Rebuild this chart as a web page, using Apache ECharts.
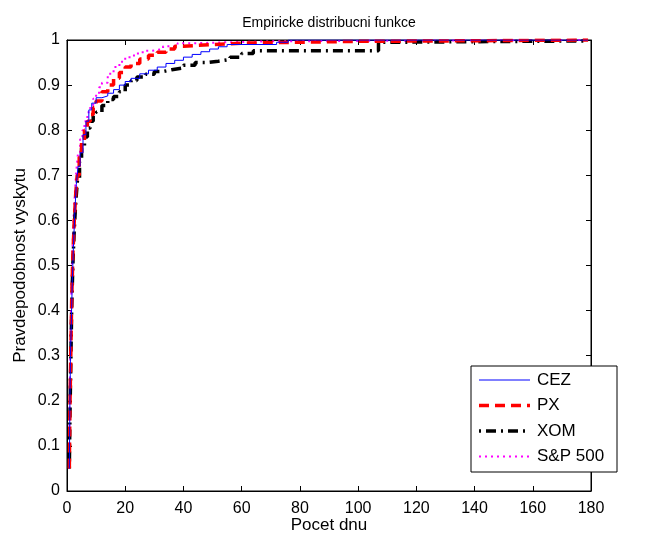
<!DOCTYPE html>
<html>
<head>
<meta charset="utf-8">
<script src="https://cdn.jsdelivr.net/npm/echarts@6/dist/echarts.min.js"></script>
<style>html,body{margin:0;padding:0;background:#fff}#c{width:658px;height:535px}</style>
</head>
<body>
<div id="c"></div>
<script>
const xTicks = [0, 20, 40, 60, 80, 100, 120, 140, 160, 180];
const yTicks = [0, 0.1, 0.2, 0.3, 0.4, 0.5, 0.6, 0.7, 0.8, 0.9, 1];

const cezX = [0.8, 0.9, 1.0, 1.2, 1.5, 1.8, 2.2, 2.7, 3.2, 3.8, 4.5, 5.5, 6.5, 7.5, 8.5, 10, 12, 14, 16, 18, 20, 22, 25, 28, 31, 34, 37, 40, 43, 46, 49, 52, 55, 72, 76, 179];
const cezY = [0.05, 0.12, 0.2, 0.3, 0.38, 0.46, 0.54, 0.62, 0.68, 0.72, 0.75, 0.79, 0.82, 0.845, 0.86, 0.872, 0.876, 0.882, 0.89, 0.9, 0.908, 0.915, 0.925, 0.933, 0.94, 0.948, 0.955, 0.962, 0.968, 0.974, 0.98, 0.985, 0.99, 0.995, 1, 1];

const pxX = [0.8, 1.0, 1.3, 1.6, 2.0, 2.5, 3.0, 3.5, 4.2, 5, 6, 7, 8, 9, 10, 12, 14, 16, 18, 20, 22, 25, 28, 31, 34, 37, 40, 50, 60, 80, 100, 130, 179];
const pxY = [0.05, 0.18, 0.3, 0.42, 0.52, 0.6, 0.66, 0.7, 0.74, 0.775, 0.8, 0.82, 0.835, 0.85, 0.865, 0.885, 0.9, 0.915, 0.928, 0.94, 0.948, 0.958, 0.966, 0.973, 0.98, 0.986, 0.99, 0.993, 0.995, 0.997, 0.998, 1, 1];

const xomX = [0.8, 1.0, 1.3, 1.6, 2.0, 2.5, 3.0, 3.6, 4.3, 5, 6, 7, 8, 9, 10, 12, 14, 16, 18, 20, 22, 24, 27, 30, 33, 36, 40, 44, 48, 52, 56, 60, 64, 107, 112, 179];
const xomY = [0.05, 0.16, 0.28, 0.4, 0.5, 0.58, 0.64, 0.69, 0.73, 0.76, 0.785, 0.805, 0.82, 0.832, 0.84, 0.855, 0.868, 0.875, 0.885, 0.9, 0.91, 0.918, 0.924, 0.93, 0.934, 0.938, 0.944, 0.95, 0.953, 0.957, 0.962, 0.97, 0.976, 0.995, 0.998, 1];

const spX = [0.7, 0.9, 1.1, 1.4, 1.8, 2.2, 2.7, 3.2, 3.8, 4.5, 5.3, 6, 7, 8, 9, 10, 11, 12, 14, 16, 18, 20, 23, 26, 29, 33, 38, 45, 55, 70, 100, 179];
const spY = [0.05, 0.18, 0.3, 0.42, 0.52, 0.6, 0.66, 0.71, 0.75, 0.78, 0.8, 0.82, 0.84, 0.855, 0.87, 0.88, 0.895, 0.905, 0.925, 0.94, 0.952, 0.962, 0.97, 0.976, 0.98, 0.986, 0.993, 0.995, 0.997, 0.998, 1, 1];

const seriesNames = ['CEZ', 'PX', 'XOM', 'S&P 500'];

function pairs(xs, ys) { return xs.map((x, i) => [x, ys[i]]); }

const styles = [
  { color: '#0000ff', width: 1, type: 'solid' },
  { color: '#ff0000', width: 3.5, type: [10, 6] },
  { color: '#000000', width: 3.5, type: [2, 5, 10, 5] },
  { color: '#ff00ff', width: 2, type: [2, 4] }
];
const dataSets = [pairs(cezX, cezY), pairs(pxX, pxY), pairs(xomX, xomY), pairs(spX, spY)];

const font = 'Liberation Sans, Arial, Helvetica, sans-serif';
const chart = echarts.init(document.getElementById('c'), null, { renderer: 'canvas' });

const axisCommon = {
  axisLine: { show: true, onZero: false, lineStyle: { color: '#000', width: 1 } },
  axisTick: { show: true, inside: true, length: 5, lineStyle: { color: '#000' } },
  splitLine: { show: false }
};

// legend drawn as graphics
const lgX = 471, lgY = 366, lgW = 146, lgH = 106;
const legendEls = [{ type: 'rect', shape: { x: lgX, y: lgY, width: lgW, height: lgH }, style: { fill: '#fff', stroke: '#000', lineWidth: 1 }, z: 100 }];
seriesNames.forEach((n, i) => {
  const cy = lgY + 14 + i * 25.5;
  const s = styles[i];
  legendEls.push({ type: 'line', shape: { x1: lgX + 8, y1: cy, x2: lgX + 59, y2: cy },
    style: { stroke: s.color, lineWidth: s.width, lineDash: s.type === 'solid' ? null : s.type }, z: 101 });
  legendEls.push({ type: 'text', x: lgX + 66, y: cy, style: { text: n, fill: '#000', font: '17px ' + font, textVerticalAlign: 'middle', verticalAlign: 'middle' }, z: 101 });
});

chart.setOption({
  animation: false,
  backgroundColor: '#fff',
  title: { text: 'Empiricke distribucni funkce', left: 'center', top: 11,
    textStyle: { fontFamily: font, fontSize: 14, fontWeight: 'normal', color: '#000' } },
  grid: { left: 67, right: 67, top: 40, bottom: 44, outerBoundsMode: 'none', containLabel: false,
    show: true, borderColor: '#000', borderWidth: 1, backgroundColor: '#fff' },
  xAxis: [
    Object.assign({ type: 'value', min: xTicks[0], max: xTicks[xTicks.length - 1], interval: 20, position: 'bottom',
      name: 'Pocet dnu', nameLocation: 'middle', nameGap: 26, nameMoveOverlap: false,
      nameTextStyle: { fontFamily: font, fontSize: 17, color: '#000' },
      axisLabel: { fontFamily: font, fontSize: 16, color: '#000', margin: 10 } }, axisCommon),
    Object.assign({ type: 'value', min: xTicks[0], max: xTicks[xTicks.length - 1], interval: 20, position: 'top',
      axisLabel: { show: false } }, axisCommon)
  ],
  yAxis: [
    Object.assign({ type: 'value', min: yTicks[0], max: yTicks[yTicks.length - 1], interval: 0.1, position: 'left',
      name: 'Pravdepodobnost vyskytu', nameLocation: 'middle', nameGap: 38, nameMoveOverlap: false,
      nameTextStyle: { fontFamily: font, fontSize: 17, color: '#000' },
      axisLabel: { fontFamily: font, fontSize: 16, color: '#000', margin: 7,
        formatter: v => String(Math.round(v * 10) / 10) } }, axisCommon),
    Object.assign({ type: 'value', min: yTicks[0], max: yTicks[yTicks.length - 1], interval: 0.1, position: 'right',
      axisLabel: { show: false } }, axisCommon)
  ],
  series: seriesNames.map((n, i) => ({
    name: n, type: 'line', step: 'end', data: dataSets[i], showSymbol: false, symbol: 'none',
    xAxisIndex: 0, yAxisIndex: 0, clip: true,
    lineStyle: { color: styles[i].color, width: styles[i].width, type: styles[i].type },
    z: 10 - i
  })),
  graphic: legendEls
});
</script>
</body>
</html>
